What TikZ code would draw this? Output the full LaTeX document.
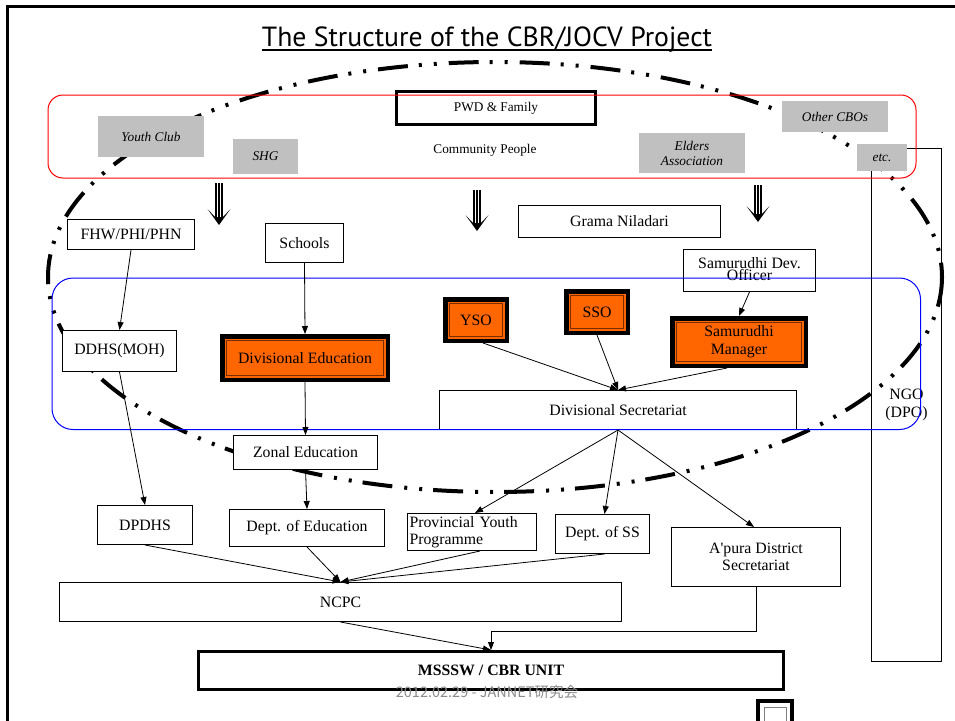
\documentclass[tikz,border=0pt]{standalone}
\usepackage{fontspec}
\setmainfont{Liberation Serif}
\newfontfamily\titlefont{PT Sans}
\newfontfamily\cjkfont{Noto Sans CJK JP}
\usetikzlibrary{arrows.meta,calc}
\definecolor{orng}{HTML}{FF6600}
\definecolor{lgray}{HTML}{C0C0C0}
\definecolor{brn}{HTML}{7A2E00}
\definecolor{wmgray}{HTML}{8C8C8C}
\newcommand{\straightq}{\XeTeXglyph\XeTeXcharglyph"0027\relax}
\begin{document}
\begin{tikzpicture}[x=1pt,y=-1pt,
  box/.style={draw=black, line width=1pt, fill=white, inner sep=0pt, font=\fontsize{15.8}{17}\selectfont, align=center},
  gbox/.style={fill=lgray, inner sep=0pt, font=\fontsize{13.3}{15}\selectfont\itshape, align=center},
  obox/.style={draw=black, line width=4.5pt, fill=orng, inner sep=0pt, font=\fontsize{15.8}{17}\selectfont, align=center},
  innerline/.style={draw=brn, line width=0.8pt},
  conn/.style={-{Triangle[length=8pt,width=6pt]}, line width=0.8pt},
  dashell/.style={line width=4pt, dash pattern=on 30pt off 11pt on 3pt off 12pt on 3pt off 12pt},
  bigshaft/.style={line width=1.2pt},
]
\useasboundingbox (0,0) rectangle (955,720);
\clip (0,0) rectangle (955,720);
\fill[white] (0,0) rectangle (955,720);

% slide frame
\draw[line width=3pt] (7.5,730) -- (7.5,6) -- (965,6);

% title
\node[font=\titlefont\fontsize{27.7}{32}\selectfont, anchor=base, inner sep=0pt] (title) at (487,46) {The Structure of the CBR/JOCV Project};
\draw[line width=1.8pt] ($(title.base west)+(0,4)$) -- ($(title.base east)+(0,4)$);

% big dash-dot ellipse
\draw[dashell] (495,277) ellipse [x radius=447, y radius=215];

% NGO box (unfilled)
\node[draw=black, line width=1pt, inner sep=0pt, minimum width=70pt, minimum height=513pt, font=\fontsize{15.8}{18}\selectfont, align=center] (ngo) at (906.5,405) {NGO\\(DPO)};

% community level
\node[box, line width=3pt, minimum width=199pt, minimum height=33pt, font=\fontsize{13.3}{15}\selectfont] (pwd) at (496,108) {PWD \& Family};
\node[font=\fontsize{13.3}{15}\selectfont, inner sep=0pt] (comm) at (485,150) {Community People};
\node[gbox, minimum width=106pt, minimum height=41pt] (youth) at (151,136.5) {Youth Club};
\node[gbox, minimum width=65pt, minimum height=35pt] (shg) at (265.5,156.5) {SHG};
\node[gbox, minimum width=106pt, minimum height=40pt] (elders) at (692,153) {Elders\\Association};
\node[gbox, minimum width=106pt, minimum height=31pt] (cbos) at (835,116.5) {Other CBOs};
\node[gbox, minimum width=50pt, minimum height=27pt] (etc) at (882,157.5) {etc.};

% big striped down arrows
\foreach \ax/\at/\ab in {219/183/225, 477/190/231, 758/185/222}{
  \draw[bigshaft] (\ax-3,\at) -- (\ax-3,\ab-7);
  \draw[bigshaft] (\ax,\at) -- (\ax,\ab-7);
  \draw[bigshaft] (\ax+3,\at) -- (\ax+3,\ab-7);
  \fill (\ax-11.5,\ab-16) -- (\ax,\ab) -- (\ax+11.5,\ab-16) -- (\ax+4,\ab-8) -- (\ax-4,\ab-8) -- cycle;
}

% boxes
\node[box, minimum width=127pt, minimum height=30pt] (fhw) at (131,234.5) {FHW/PHI/PHN};
\node[box, minimum width=78pt, minimum height=39pt] (schools) at (304.5,243) {Schools};
\node[box, minimum width=202pt, minimum height=32pt] (grama) at (619.5,221.5) {Grama Niladari};
\node[draw=black, line width=1pt, inner sep=0pt, minimum width=132pt, minimum height=42pt] (samdev) at (749.5,270.5) {};
\node[font=\fontsize{15.8}{12.5}\selectfont, align=center, inner sep=0pt] (samdevtxt) at (749.5,269) {Samurudhi Dev.\\Officer};
\node[box, minimum width=114pt, minimum height=41pt] (ddhs) at (119.5,351) {DDHS(MOH)};
\node[obox, minimum width=165.5pt, minimum height=43.5pt] (divedu) at (305,358) {Divisional Education};
\node[obox, minimum width=61.5pt, minimum height=41.5pt] (yso) at (476,320) {YSO};
\node[obox, minimum width=61.5pt, minimum height=41.5pt] (sso) at (597,312) {SSO};
\node[obox, minimum width=133.5pt, minimum height=47.5pt, font=\fontsize{15.8}{18}\selectfont] (sammgr) at (739,342) {Samurudhi\\Manager};
\foreach \n in {divedu,yso,sso,sammgr}{
  \draw[innerline] ($(\n.north west)+(6.5,6.5)$) rectangle ($(\n.south east)+(-6.5,-6.5)$);
}
\node[box, minimum width=357pt, minimum height=39pt] (divsec) at (618,410) {Divisional Secretariat};
\node[box, minimum width=144pt, minimum height=34pt] (zonal) at (305.5,452.5) {Zonal Education};
\node[box, minimum width=95pt, minimum height=39pt] (dpdhs) at (145,525) {DPDHS};
\node[box, minimum width=155pt, minimum height=37pt] (depted) at (307,528) {Dept. of Education};
\node[box, minimum width=129pt, minimum height=37pt, text width=125pt, align=left, inner xsep=2pt, font=\fontsize{15.8}{16.5}\selectfont] (prov) at (472,532) {Provincial Youth\\Programme};
\node[box, minimum width=94pt, minimum height=39pt] (deptss) at (602.5,534) {Dept. of SS};
\node[box, minimum width=169pt, minimum height=59pt, font=\fontsize{15.8}{16.5}\selectfont] (apura) at (756,557) {A\straightq pura District\\Secretariat};
\node[box, minimum width=562pt, minimum height=39pt] (ncpc) at (340.5,602) {NCPC};
\node[box, line width=3pt, minimum width=585pt, minimum height=38pt, font=\fontsize{15.8}{17}\selectfont\bfseries] (msssw) at (491,670.5) {MSSSW / CBR UNIT};

% outlines of the community and division areas
\draw[red, line width=1pt, rounded corners=15pt] (48,95) rectangle (916,178);
\draw[blue, line width=1pt, rounded corners=21pt] (52,278) rectangle (920.5,429.5);

% connectors
\draw[conn] (fhw.south) -- (ddhs.north);
\draw[conn] (schools.south) -- (divedu.north);
\draw[conn] (divedu.south) -- (zonal.north);
\draw[conn] (ddhs.south) -- (dpdhs.north);
\draw[conn] (zonal.south) -- (depted.north);
\draw[conn] (samdev.south) -- (sammgr.north);
\draw[conn] ($(yso.south)+(7,0)$) -- (divsec.north);
\draw[conn] (sso.south) -- (divsec.north);
\draw[conn] ($(sammgr.south)+(-12,0)$) -- (divsec.north);
\draw[conn] (divsec.south) -- ($(prov.north)+(3,0)$);
\draw[conn] (divsec.south) -- ($(deptss.north)+(2,0)$);
\draw[conn] (divsec.south) -- ($(apura.north)+(-2,0)$);
\draw[conn] (dpdhs.south) -- (ncpc.north);
\draw[conn] (depted.south) -- (ncpc.north);
\draw[conn] ($(prov.south)+(8,0)$) -- (ncpc.north);
\draw[conn] ($(deptss.south)+(2,0)$) -- (ncpc.north);
\draw[conn] (ncpc.south) -- (msssw.north);
\draw[conn] (apura.south) -- ++(0,44) -| (msssw.north);

% watermark
\node[font=\cjkfont\fontsize{14.5}{16}\selectfont, text=wmgray, inner sep=0pt] (wm) at (487,692) {2012.02.29 - JANNET研究会};

% legend box (cut off at the bottom)
\draw[line width=4pt] (758,701) rectangle (792,745);
\draw[gray, line width=0.8pt] (764,707) rectangle (786,745);
\end{tikzpicture}
\end{document}
